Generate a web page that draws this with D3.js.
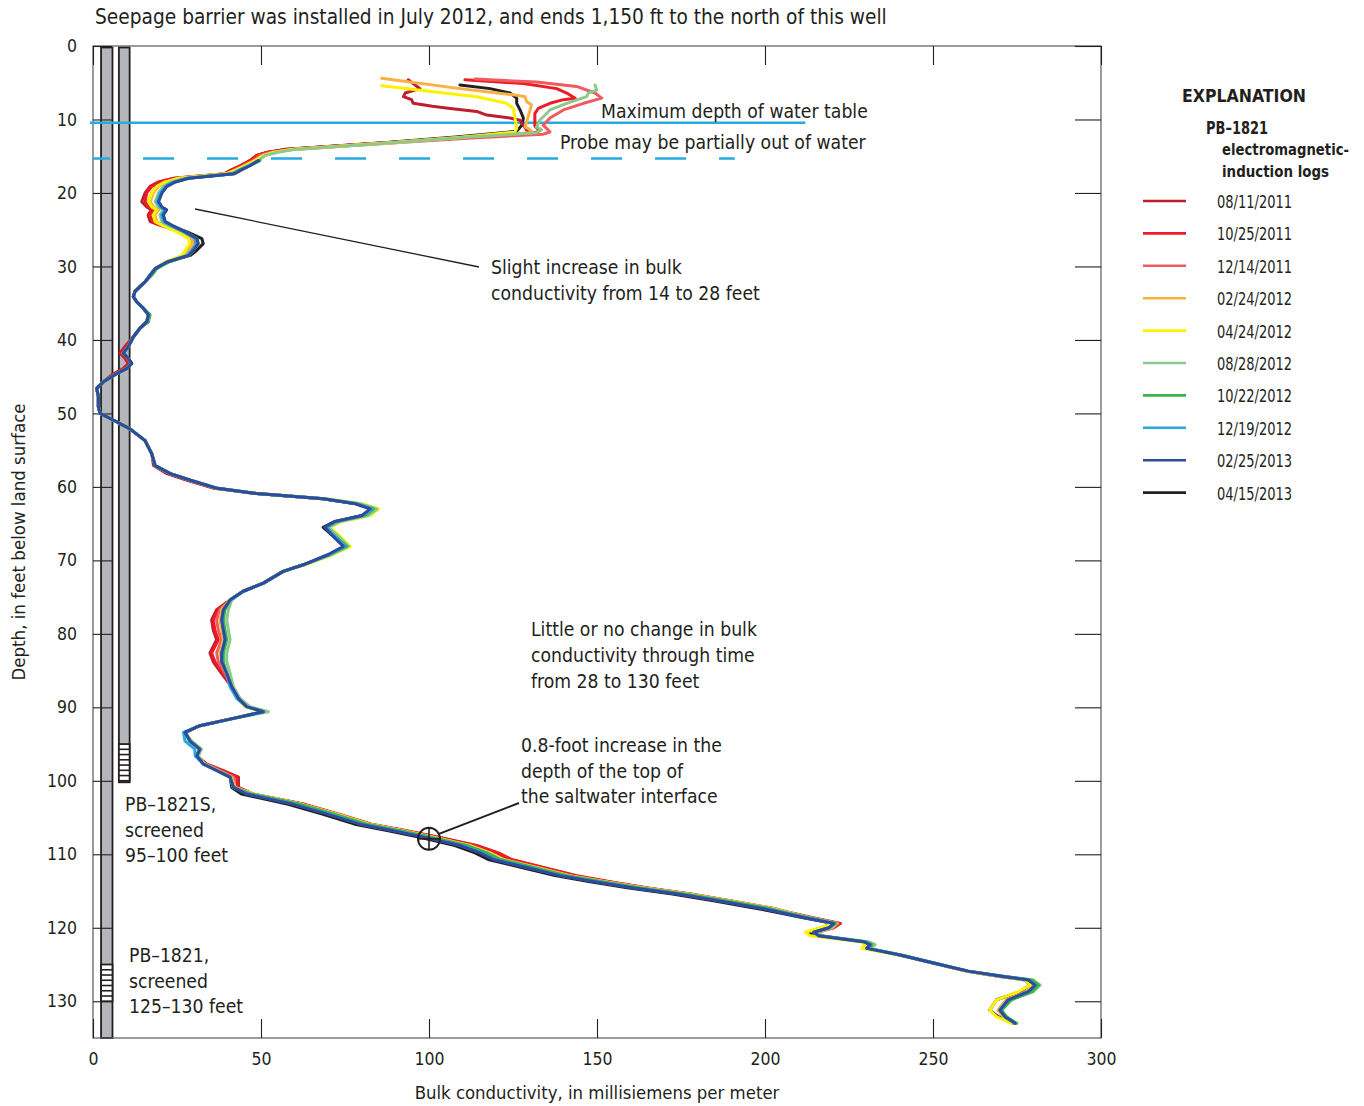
<!DOCTYPE html>
<html>
<head>
<meta charset="utf-8">
<script src="https://cdn.jsdelivr.net/npm/d3@7"></script>
<style>
    body { margin: 0; background: #fff; }
    svg text { font-family: 'Liberation Sans Narrow', 'Arial Narrow', 'DejaVu Sans Condensed', sans-serif; fill: #231f20; }
</style>
</head>
<body>
<div id="chart"></div>
<script>
// log dates and colours
var logDates = ['08/11/2011', '10/25/2011', '12/14/2011', '02/24/2012', '04/24/2012',
    '08/28/2012', '10/22/2012', '12/19/2012', '02/25/2013', '04/15/2013'];
var logColors = ['#be1e2d', '#ed1c24', '#f15a5f', '#fbb040', '#fff200',
    '#8dc98b', '#39b54a', '#27aae1', '#2f4b9e', '#231f20'];

var xTicks = [0, 50, 100, 150, 200, 250, 300];
var yTicks = [0, 10, 20, 30, 40, 50, 60, 70, 80, 90, 100, 110, 120, 130];

// shallow part of each log, [conductivity, depth]
var topSegments = {
    '08/11/2011': [[93.8, 4.6], [97.3, 5.8], [92.9, 6.4], [92.4, 6.9], [94.8, 7.3], [95.3, 7.8], [101, 8.2], [106.3, 8.5], [114.2, 8.9], [117.2, 9.4], [124.1, 9.8], [127.1, 10.1], [128.1, 10.8], [129, 11.4], [131, 11.8], [112, 12.4]],
    '10/25/2011': [[110.7, 4.6], [128.1, 5.1], [138, 5.8], [141, 6.4], [143.5, 7.1], [140, 7.3], [136, 7.8], [132.5, 8.5], [131.5, 9.2], [131.5, 10.3], [131.5, 10.9], [133, 11.5], [131, 11.9], [112, 12.4]],
    '12/14/2011': [[113.7, 4.5], [132, 4.9], [143.9, 5.5], [149.4, 6.4], [151.4, 7.1], [146, 7.8], [140, 8.7], [136, 9.8], [134, 10.8], [135, 11.2], [136, 11.7], [134, 12.0], [114, 12.5]],
    '02/24/2012': [[85.9, 4.4], [109.2, 5.8], [126.1, 6.7], [128.6, 6.9], [129.1, 7.6], [130.5, 8.0], [130.1, 8.7], [129.1, 10.3], [128.6, 11.0], [130.1, 11.4], [131, 11.8], [111, 12.4]],
    '04/24/2012': [[85.9, 5.4], [114.2, 6.9], [123.1, 7.8], [125.1, 8.5], [125.6, 9.8], [126.1, 11.2], [125.6, 11.7], [108, 12.5]],
    '08/28/2012': [[149.4, 5.3], [149.9, 6.0], [147.4, 6.4], [146.9, 6.9], [141, 7.8], [136, 8.7], [133, 10.1], [132, 11.0], [133.5, 11.4], [132, 11.8], [112, 12.4]],
    '10/22/2012': [],
    '12/19/2012': [],
    '02/25/2013': [],
    '04/15/2013': [[109.2, 5.3], [118.2, 5.8], [124.1, 6.4], [126.1, 7.1], [126.1, 7.8], [127.1, 8.7], [128.1, 9.8], [127.6, 10.8], [126.1, 11.6], [108, 12.4]]
};

// depths (feet) of the deeper readings shared by all logs
var depthGrid = [13.1, 13.7, 14.1, 14.5, 14.9, 15.6, 16.3, 16.9, 17.4, 18.0,
    18.5, 19.1, 20.0, 21.2, 21.9, 22.3, 23.0, 23.9, 24.4, 25.3,
    26.2, 26.9, 27.8, 28.5, 29.4, 30.3, 31.2, 32.1, 33.4, 34.1,
    34.8, 35.7, 36.6, 37.5, 38.4, 39.6, 40.9, 41.8, 42.5, 43.2,
    43.9, 44.6, 45.7, 46.6, 47.7, 49.1, 50.0, 50.9, 52.1, 53.7,
    55.5, 57.1, 58.2, 59.1, 60.2, 60.9, 61.6, 62.3, 63.0, 63.9,
    64.7, 65.5, 66.5, 68.1, 69.2, 70.6, 71.5, 73.1, 74.2, 75.4,
    76.7, 78.1, 79.5, 80.8, 82.6, 83.8, 85.4, 87.2, 88.8, 89.9,
    90.6, 91.4, 92.5, 93.4, 94.6, 95.7, 96.6, 97.7, 98.6, 99.5,
    100.9, 101.8, 103.2, 104.5, 105.9, 106.8, 107.7, 108.8, 109.8, 110.7,
    111.8, 112.9, 113.7, 114.6, 115.4, 116.4, 117.4, 118.0, 118.6, 119.4,
    120.0, 120.6, 121.1, 121.9, 122.3, 122.8, 123.7, 124.8, 125.9, 126.6,
    127.1, 127.8, 128.7, 129.8, 131.2, 132.1, 133.0];

// conductivity (mS/m) at each depthGrid entry; null = no reading
var log20110811 = [89.4, 69.5, 57.6, 51.7, 48.7, 46.7, 43.7, 41.0, 39.0, 24.0,
    19.5, 17.0, 15.5, 14.5, 16.0, 17.4, 16.4, 17.0, 20.0, 26.0,
    29.4, 29.8, 28.4, 28.0, 22.0, 18.5, 17.0, 15.5, 12.5, 12.0,
    13.0, 15.0, 16.5, 16.0, 14.0, 12.0, 9.5, 8.0, 9.5, 10.5,
    9.0, 6.0, 3.1, 1.1, 1.6, 1.6, 2.1, 6.0, 11.0, 15.5,
    17.5, 18.0, 22.0, 28.0, 36.0, 48.7, 68.5, 78.5, 83.0, 80.4,
    72.5, 69.5, 71.5, 75.0, 70.5, 62.6, 56.6, 50.7, 44.7, 40.8,
    36.8, 35.3, 35.8, 36.8, 34.8, 35.8, 38.3, 41.3, 43.3, 45.7,
    50.7, 42.8, 31.8, 27.4, 28.9, 31.8, 30.9, 33.8, 38.8, 43.3,
    43.3, 47.7, 62.6, 72.5, 82.4, 92.9, 102.8, 113.7, 120.2, 124.1,
    133.6, 143.5, 153.0, 165.0, 177.5, 190.0, 202.5, 207.5, 213.0, 222.0,
    220.0, 214.5, 216.0, 229.3, 231.3, 230.3, 240.2, 250.1, 260.0, 269.9,
    278.4, 280.4, 277.9, 272.9, 270.4, 270.9, 273.9];
var log20111025 = [89.4, 69.5, 57.1, 51.7, 48.7, 46.7, 44.2, 41.5, 39.5, 24.5,
    20.0, 17.5, 16.0, 15.5, 16.5, 18.4, 16.9, 18.0, 20.5, 26.5,
    30.0, 30.4, 29.0, 28.0, 22.0, 18.5, 17.0, 15.5, 12.5, 12.0,
    13.0, 15.0, 16.5, 16.0, 14.0, 12.0, 10.0, 8.5, 10.0, 11.0,
    9.5, 6.5, 3.1, 1.1, 1.6, 1.6, 2.1, 6.0, 11.0, 15.5,
    17.5, 18.5, 22.5, 28.5, 36.5, 48.7, 68.5, 78.5, 83.0, 80.4,
    72.5, 69.5, 71.5, 75.0, 70.5, 62.6, 56.6, 50.7, 44.7, 40.8,
    37.3, 35.8, 36.3, 37.3, 35.3, 36.3, 38.8, 41.3, 43.3, 45.7,
    50.7, 42.8, 31.8, 27.4, 28.9, 31.8, 30.9, 33.3, 38.3, 42.8,
    42.8, 47.7, 63.1, 73.0, 82.9, 93.4, 103.3, 114.2, 120.7, 124.6,
    134.1, 144.0, 153.5, 165.0, 178.0, 190.5, 203.0, 208.0, 214.0, 222.5,
    220.5, 215.5, 217.0, 229.3, 231.3, 230.3, 240.2, 250.1, 260.0, 269.9,
    278.4, 280.4, 278.4, 272.4, 269.9, 271.4, 274.4];
var log20111214 = [92.4, 72.0, 59.6, 52.7, 49.7, 47.7, 44.7, 42.0, 40.0, 25.5,
    21.5, 19.0, 17.5, 16.5, 17.5, 19.4, 18.0, 18.5, 21.0, 27.0,
    30.4, 30.8, 29.4, 28.0, 22.0, 18.5, 17.0, 15.5, 12.5, 12.0,
    13.0, 15.0, 16.5, 16.0, 14.0, 12.0, 10.5, 9.0, 10.5, 11.5,
    10.0, 7.0, 3.1, 1.1, 1.6, 1.6, 2.1, 6.0, 11.0, 15.5,
    17.5, 18.5, 23.0, 29.0, 37.0, 48.7, 68.5, 78.5, 83.0, 80.4,
    72.5, 69.5, 71.5, 75.0, 70.5, 62.6, 56.6, 50.7, 44.7, 40.8,
    37.8, 36.8, 37.3, 38.3, 36.8, 37.3, 39.3, 41.3, 43.3, 45.7,
    50.7, 42.8, 31.8, 27.4, 28.9, 31.8, 30.9, 33.3, 37.8, 41.8,
    42.3, 47.2, 62.1, 72.5, 82.4, 92.4, 101.8, 112.2, 118.2, 122.1,
    132.1, 142.0, 152.0, 164.0, 177.0, 190.0, 202.5, 207.0, 213.0, 221.5,
    219.5, 215.0, 216.5, 229.3, 231.3, 230.3, 240.2, 250.1, 260.0, 269.9,
    277.9, 279.9, 277.9, 271.9, 269.4, 270.9, 274.4];
var log20120224 = [90.9, 71.0, 59.1, 53.2, 50.7, 48.2, 45.2, 42.5, 40.0, 26.0,
    22.0, 19.5, 18.0, 17.0, 18.0, 19.4, 18.4, 19.0, 21.0, 26.0,
    29.4, 29.8, 28.4, 27.5, 22.0, 18.5, 17.0, 15.5, 12.5, 12.0,
    13.0, 15.0, 16.5, 16.0, 14.0, 12.0, 10.5, 9.0, 10.5, 11.5,
    10.0, 7.0, 3.1, 1.1, 1.6, 1.6, 2.1, 6.0, 11.0, 15.5,
    17.5, 18.5, 23.0, 29.0, 37.0, 48.7, 68.5, 79.0, 83.5, 80.9,
    72.5, 69.5, 72.0, 75.5, 70.5, 62.6, 56.6, 50.7, 44.7, 40.8,
    38.3, 37.8, 38.3, 38.8, 37.8, 38.3, 39.8, 41.3, 43.3, 45.7,
    50.7, 42.8, 31.8, 27.4, 28.9, 31.8, 30.9, 33.3, 37.3, 41.3,
    42.3, 47.7, 62.1, 72.5, 82.4, 92.4, 101.8, 112.2, 118.2, 122.1,
    132.1, 142.0, 152.0, 164.5, 177.5, 190.5, 203.0, 208.0, 213.0, 221.5,
    220.0, 215.5, 217.0, 229.3, 231.3, 230.3, 240.2, 250.1, 260.0, 269.9,
    277.9, 279.9, 277.9, 271.9, 269.4, 270.9, 273.9];
var log20120424 = [90.4, 70.5, 58.6, 53.7, 50.7, 48.2, 45.2, 42.5, 39.5, 25.5,
    21.5, 19.0, 17.5, 16.5, 17.5, 18.9, 17.9, 18.5, 20.5, 25.0,
    28.4, 28.8, 27.4, 26.5, 21.5, 18.5, 17.0, 15.5, 12.5, 12.0,
    13.0, 15.0, 16.5, 16.0, 14.0, 12.0, 10.5, 9.0, 10.5, 11.5,
    10.0, 7.0, 3.1, 1.1, 1.6, 1.6, 2.1, 6.0, 11.0, 15.5,
    17.5, 18.5, 23.0, 29.0, 37.0, 49.2, 69.5, 80.0, 85.0, 82.4,
    74.0, 70.5, 73.0, 76.5, 71.5, 63.1, 56.6, 50.7, 44.7, 40.8,
    38.8, 38.3, 38.8, 39.3, 38.3, 38.3, 39.8, 41.3, 43.3, 45.2,
    50.2, 42.8, 31.8, 27.4, 28.9, 31.8, 30.9, 32.8, 36.8, 40.8,
    41.8, 47.7, 62.1, 72.0, 81.9, 91.9, 101.3, 111.7, 117.7, 121.6,
    131.6, 141.5, 151.5, 163.5, 176.5, 189.5, 202.0, 207.0, 212.5, 220.5,
    216.5, 212.0, 213.5, 228.3, 229.8, 228.8, 239.7, 250.1, 260.0, 269.9,
    277.4, 278.9, 275.4, 268.9, 266.9, 268.9, 273.4];
var log20120828 = [91.4, 71.5, 59.6, 54.7, 51.2, 49.2, 46.2, 43.5, 41.0, 27.5,
    23.5, 21.0, 19.5, 18.5, 19.5, 20.9, 19.9, 20.5, 22.5, 27.5,
    30.9, 31.3, 29.9, 28.5, 22.5, 18.5, 17.0, 15.5, 12.5, 12.0,
    13.0, 15.0, 16.5, 16.0, 14.0, 12.0, 10.5, 9.0, 10.5, 11.5,
    10.0, 7.0, 3.1, 1.1, 1.6, 1.6, 2.1, 6.0, 11.0, 15.5,
    17.5, 18.5, 23.0, 29.0, 37.0, 49.2, 69.0, 79.5, 84.5, 81.9,
    73.5, 70.0, 72.5, 76.0, 71.0, 62.6, 56.6, 50.7, 44.7, 41.3,
    40.3, 39.8, 40.3, 40.8, 39.8, 39.8, 40.8, 41.8, 43.8, 46.7,
    52.2, 43.3, 31.8, 27.4, 29.4, 32.3, 31.4, 32.8, 36.8, 40.8,
    41.8, 47.2, 61.6, 71.5, 81.4, 91.4, 100.8, 111.2, 117.2, 121.1,
    131.1, 141.0, 151.0, 163.0, 176.0, 189.0, 201.5, 207.0, 213.0, 221.5,
    219.5, 215.0, 216.5, 230.8, 232.8, 231.3, 240.7, 250.6, 260.5, 270.9,
    279.9, 281.9, 279.9, 272.9, 269.9, 271.4, 274.4];
var log20121022 = [null, null, null, null, null, 49.7, 46.7, 44.0, 42.0, 28.5,
    24.5, 22.0, 20.5, 19.5, 20.5, 21.9, 20.9, 21.5, 23.5, 27.5,
    30.9, 31.3, 29.9, 28.5, 22.5, 19.0, 17.5, 15.5, 12.5, 12.0,
    13.0, 15.0, 17.0, 16.5, 14.0, 12.0, 10.5, 9.0, 10.5, 11.5,
    10.0, 7.0, 3.1, 1.1, 1.6, 1.6, 2.1, 6.0, 11.0, 15.5,
    17.5, 18.5, 23.0, 29.0, 37.0, 48.7, 68.5, 78.5, 83.5, 80.9,
    72.5, 69.5, 71.5, 75.5, 70.5, 62.6, 56.6, 50.7, 44.7, 40.8,
    39.3, 38.8, 39.3, 39.8, 38.8, 38.8, 39.8, 41.3, 43.3, 45.7,
    50.7, 42.8, 31.8, 27.4, 28.9, 31.8, 30.9, 32.8, 36.8, 40.8,
    41.8, 47.2, 61.6, 71.5, 81.4, 91.4, 100.8, 111.2, 117.2, 121.1,
    131.1, 141.0, 151.0, 163.0, 176.0, 189.0, 201.5, 206.5, 212.5, 221.0,
    219.0, 214.5, 216.0, 229.8, 231.8, 230.8, 240.2, 250.1, 260.5, 270.9,
    279.4, 281.4, 279.4, 273.4, 270.4, 271.9, 274.9];
var log20121219 = [null, null, null, null, null, 49.2, 46.2, 43.5, 41.5, 28.0,
    24.0, 21.5, 20.0, 19.0, 20.0, 21.4, 20.4, 21.0, 23.0, 27.0,
    30.4, 30.8, 29.4, 28.0, 22.0, 18.5, 17.0, 15.5, 12.5, 12.0,
    13.0, 15.0, 16.5, 16.0, 14.0, 12.0, 10.5, 9.0, 10.5, 11.5,
    10.0, 7.0, 3.1, 1.1, 1.6, 1.6, 2.1, 6.0, 11.0, 15.5,
    17.5, 18.5, 23.0, 29.0, 37.0, 48.7, 68.5, 78.5, 83.0, 80.4,
    72.5, 69.5, 71.5, 75.0, 70.5, 62.6, 56.6, 50.7, 44.7, 40.8,
    38.8, 38.3, 38.8, 39.3, 38.3, 38.3, 39.8, 40.8, 42.8, 45.7,
    50.7, 42.8, 31.8, 26.9, 27.4, 30.3, 30.4, 32.8, 36.8, 40.8,
    41.8, 46.2, 60.1, 70.0, 79.9, 89.9, 99.3, 109.7, 115.7, 119.6,
    129.6, 139.5, 149.5, 161.5, 174.5, 187.5, 200.0, 206.0, 212.0, 220.5,
    219.0, 214.5, 216.0, 229.3, 231.3, 230.3, 240.2, 250.1, 260.5, 270.4,
    278.4, 280.4, 278.4, 272.4, 269.9, 271.4, 274.4];
var log20130225 = [null, null, null, null, null, 49.2, 46.7, 44.0, 42.0, 28.5,
    24.5, 22.0, 20.5, 19.5, 20.5, 21.9, 20.9, 21.5, 23.5, 27.5,
    30.9, 31.3, 29.9, 28.5, 22.0, 18.5, 17.0, 15.5, 12.5, 12.0,
    13.0, 15.0, 16.5, 16.0, 14.0, 12.0, 10.5, 9.0, 10.5, 11.5,
    10.0, 7.0, 3.1, 1.1, 1.6, 1.6, 2.1, 6.0, 11.0, 15.5,
    17.5, 18.5, 23.0, 29.0, 37.0, 48.7, 68.5, 78.0, 82.5, 80.0,
    72.0, 69.0, 71.0, 74.5, 70.0, 62.6, 56.6, 50.7, 44.7, 40.8,
    38.8, 38.3, 38.8, 39.3, 38.3, 38.3, 39.8, 41.3, 43.3, 45.7,
    50.7, 42.8, 31.8, 27.4, 28.9, 31.8, 30.9, 32.8, 36.8, 40.8,
    41.8, 45.7, 59.6, 69.5, 79.4, 89.4, 98.8, 109.2, 115.2, 119.1,
    129.1, 139.0, 149.0, 161.0, 174.0, 187.0, 199.5, 205.5, 211.5, 220.5,
    219.0, 214.5, 216.0, 229.3, 231.3, 230.3, 240.2, 250.1, 260.5, 270.4,
    278.4, 280.4, 278.4, 272.4, 269.9, 271.4, 274.4];
var log20130415 = [88.4, 68.5, 56.6, 51.7, 49.2, 48.2, 45.7, 43.5, 41.5, 28.0,
    24.0, 21.5, 20.0, 19.0, 20.0, 21.4, 20.4, 21.0, 23.0, 28.0,
    32.4, 32.8, 30.9, 29.0, 22.0, 18.5, 17.0, 15.5, 12.5, 12.0,
    13.0, 15.0, 16.5, 16.5, 14.0, 12.0, 10.5, 9.0, 10.5, 11.5,
    10.0, 7.0, 3.1, 1.1, 1.6, 1.6, 2.1, 6.0, 11.0, 15.5,
    17.5, 18.5, 23.0, 29.0, 37.0, 48.7, 68.5, 78.5, 83.0, 80.4,
    72.0, 68.5, 71.0, 75.0, 70.5, 62.6, 56.6, 50.7, 44.7, 40.8,
    38.8, 38.3, 38.8, 39.3, 38.3, 38.3, 39.8, 41.3, 43.3, 45.7,
    50.7, 42.8, 31.8, 27.4, 28.9, 31.8, 30.9, 32.8, 36.8, 40.8,
    41.3, 44.2, 58.1, 68.0, 77.9, 87.9, 97.3, 107.7, 113.7, 117.6,
    127.6, 137.5, 147.5, 159.5, 172.5, 185.5, 198.0, 204.5, 211.0, 220.0,
    217.0, 212.5, 215.0, 229.3, 231.3, 230.3, 240.2, 250.1, 260.0, 269.4,
    277.4, 278.9, 275.9, 268.9, 266.9, 269.4, 273.9];

var logValues = [log20110811, log20111025, log20111214, log20120224, log20120424,
    log20120828, log20121022, log20121219, log20130225, log20130415];

// wells drawn at the left edge: [left, right] in axis units, depth of casing and screen
var wellNames = ['PB-1821', 'PB-1821S'];
var wellSpan = [[2.4, 5.8], [7.7, 10.9]];
var wellBottom = [135, 100.2];
var wellScreen = [[125, 130], [95, 100]];

// reference lines: depth (ft) and extent (mS/m)
var waterTableDepth = 10.45;
var waterTableEnd = 212;
var probeDepth = 15.3;
var probeEnd = 191;
var interfacePoint = [100, 107.9];

function depthChart() {
    var margin = { top: 46, right: 263, bottom: 68, left: 93 };
    var width = 1364 - margin.left - margin.right;
    var height = 1106 - margin.top - margin.bottom;

    var x = d3.scaleLinear().domain([0, 300]).range([0, width]);
    var y = d3.scaleLinear().domain([0, 135]).range([0, height]);
    var color = d3.scaleOrdinal().domain(logDates).range(logColors);

    var svg = d3.select('#chart')
        .append('svg')
        .attr('width', 1364)
        .attr('height', 1106);

    svg.append('rect').attr('width', 1364).attr('height', 1106).attr('fill', '#fff');

    svg.append('text')
        .attr('x', 95)
        .attr('y', 24)
        .style('font-size', '20.7px')
        .text('Seepage barrier was installed in July 2012, and ends 1,150 ft to the north of this well');

    var g = svg.append('g')
        .attr('transform', `translate(${margin.left}, ${margin.top})`);

    // wells
    wellNames.forEach(function (name, i) {
        var x0 = x(wellSpan[i][0]), x1 = x(wellSpan[i][1]);
        g.append('rect')
            .attr('x', x0).attr('y', 1.5)
            .attr('width', x1 - x0).attr('height', y(wellBottom[i]) - 1.5)
            .attr('fill', '#b5b6b9')
            .attr('stroke', '#231f20')
            .attr('stroke-width', 1.8);
        var s0 = y(wellScreen[i][0]), s1 = y(wellScreen[i][1]);
        g.append('rect')
            .attr('x', x0).attr('y', s0)
            .attr('width', x1 - x0).attr('height', s1 - s0)
            .attr('fill', '#fff')
            .attr('stroke', '#231f20')
            .attr('stroke-width', 1.8);
        d3.range(1, 7).forEach(function (k) {
            var yy = s0 + (s1 - s0) * k / 7;
            g.append('line')
                .attr('x1', x0).attr('x2', x1)
                .attr('y1', yy).attr('y2', yy)
                .attr('stroke', '#231f20')
                .attr('stroke-width', 1.6);
        });
    });

    // frame and inward ticks
    g.append('rect')
        .attr('width', width).attr('height', height)
        .attr('fill', 'none')
        .attr('stroke', '#58595b')
        .attr('stroke-width', 1.2);

    var xAxis = d3.axisBottom(x).tickValues(xTicks).tickSize(-19).tickPadding(15);
    var xAxisTop = d3.axisTop(x).tickValues(xTicks).tickSize(-19).tickFormat('');
    var yAxisLeft = d3.axisLeft(y).tickValues(yTicks).tickSize(-19).tickPadding(16);
    var yAxisRight = d3.axisRight(y).tickValues(yTicks).tickSize(-26).tickFormat('');

    function styleAxis(sel) {
        sel.select('.domain').remove();
        sel.selectAll('.tick line').attr('stroke', '#231f20').attr('stroke-width', 1.1);
        sel.selectAll('.tick text')
            .style('font-size', '17.5px')
            .style('font-family', null)
            .attr('fill', '#231f20');
    }

    g.append('g').attr('transform', `translate(0, ${height})`).call(xAxis).call(styleAxis);
    g.append('g').call(xAxisTop).call(styleAxis);
    g.append('g').call(yAxisLeft).call(styleAxis);
    g.append('g').attr('transform', `translate(${width}, 0)`).call(yAxisRight).call(styleAxis);

    // water table and probe lines
    g.append('line')
        .attr('x1', -3).attr('x2', x(waterTableEnd))
        .attr('y1', y(waterTableDepth)).attr('y2', y(waterTableDepth))
        .attr('stroke', '#27aae1').attr('stroke-width', 2.6);
    g.append('line')
        .attr('x1', 0).attr('x2', x(probeEnd))
        .attr('y1', y(probeDepth)).attr('y2', y(probeDepth))
        .attr('stroke', '#27aae1').attr('stroke-width', 2.6)
        .attr('stroke-dasharray', '31,33')
        .attr('stroke-dashoffset', 14);

    // logs
    var line = d3.line()
        .x(d => x(d[0]))
        .y(d => y(d[1]));

    var logs = logDates.map(function (date, i) {
        var pts = topSegments[date].slice();
        logValues[i].forEach(function (v, j) {
            if (v != null) pts.push([v, depthGrid[j]]);
        });
        return { date: date, points: pts };
    });

    var drawOrder = [9, 0, 1, 2, 3, 4, 5, 6, 7, 8];
    g.append('g')
        .selectAll('path')
        .data(drawOrder.map(i => logs[i]))
        .join('path')
        .attr('fill', 'none')
        .attr('stroke', d => color(d.date))
        .attr('stroke-width', 3)
        .attr('stroke-linejoin', 'round')
        .attr('stroke-linecap', 'round')
        .attr('d', d => line(d.points));

    // annotations
    function lines(xPos, yPos, rows, step) {
        rows.forEach(function (r, k) {
            g.append('text')
                .attr('x', xPos).attr('y', yPos + k * step)
                .style('font-size', '19.2px')
                .text(r);
        });
    }

    lines(508, 72, ['Maximum depth of water table'], 0);
    lines(467, 103, ['Probe may be partially out of water'], 0);
    lines(398, 228, ['Slight increase in bulk', 'conductivity from 14 to 28 feet'], 25.5);
    lines(438, 590, ['Little or no change in bulk', 'conductivity through time', 'from 28 to 130 feet'], 26);
    lines(428, 706, ['0.8-foot increase in the', 'depth of the top of', 'the saltwater interface'], 25.5);
    lines(32, 765, ['PB\u20131821S,', 'screened', '95\u2013100 feet'], 25.5);
    lines(36, 916, ['PB\u20131821,', 'screened', '125\u2013130 feet'], 25.5);

    g.append('line')
        .attr('x1', 102).attr('y1', 163)
        .attr('x2', 386).attr('y2', 221)
        .attr('stroke', '#231f20').attr('stroke-width', 1.3);

    var cx = x(interfacePoint[0]), cy = y(interfacePoint[1]);
    g.append('circle')
        .attr('cx', cx).attr('cy', cy).attr('r', 11)
        .attr('fill', 'none').attr('stroke', '#231f20').attr('stroke-width', 2);
    g.append('line')
        .attr('x1', cx - 11).attr('x2', cx + 11).attr('y1', cy).attr('y2', cy)
        .attr('stroke', '#231f20').attr('stroke-width', 1.6);
    g.append('line')
        .attr('x1', cx).attr('x2', cx).attr('y1', cy - 11).attr('y2', cy + 11)
        .attr('stroke', '#231f20').attr('stroke-width', 1.6);
    g.append('line')
        .attr('x1', cx + 10).attr('y1', cy - 5)
        .attr('x2', 426).attr('y2', 757)
        .attr('stroke', '#231f20').attr('stroke-width', 2);

    // axis titles
    svg.append('text')
        .attr('x', 597).attr('y', 1099)
        .attr('text-anchor', 'middle')
        .style('font-size', '18.4px')
        .text('Bulk conductivity, in millisiemens per meter');
    svg.append('text')
        .attr('transform', 'rotate(-90)')
        .attr('x', -542).attr('y', 25)
        .attr('text-anchor', 'middle')
        .style('font-size', '18.5px')
        .text('Depth, in feet below land surface');

    // explanation
    var lg = svg.append('g');
    lg.append('text').attr('x', 1182).attr('y', 102)
        .attr('textLength', 124).attr('lengthAdjust', 'spacingAndGlyphs')
        .style('font-size', '18px').style('font-weight', 'bold').text('EXPLANATION');
    lg.append('text').attr('x', 1206).attr('y', 134)
        .attr('textLength', 62).attr('lengthAdjust', 'spacingAndGlyphs')
        .style('font-size', '17px').style('font-weight', 'bold').text('PB\u20131821');
    lg.append('text').attr('x', 1222).attr('y', 155)
        .attr('textLength', 127).attr('lengthAdjust', 'spacingAndGlyphs')
        .style('font-size', '16.5px').style('font-weight', 'bold').text('electromagnetic-');
    lg.append('text').attr('x', 1222).attr('y', 177)
        .attr('textLength', 107).attr('lengthAdjust', 'spacingAndGlyphs')
        .style('font-size', '16.5px').style('font-weight', 'bold').text('induction logs');

    var item = lg.selectAll('.item')
        .data(logDates)
        .join('g')
        .attr('class', 'item')
        .attr('transform', (d, i) => `translate(0, ${201 + i * 32.4})`);
    item.append('line')
        .attr('x1', 1143).attr('x2', 1186)
        .attr('stroke', d => color(d))
        .attr('stroke-width', 2.6);
    item.append('text')
        .attr('x', 1217).attr('y', 7)
        .attr('textLength', 75).attr('lengthAdjust', 'spacingAndGlyphs')
        .style('font-size', '17px')
        .text(d => d);
}

depthChart();
</script>
</body>
</html>
